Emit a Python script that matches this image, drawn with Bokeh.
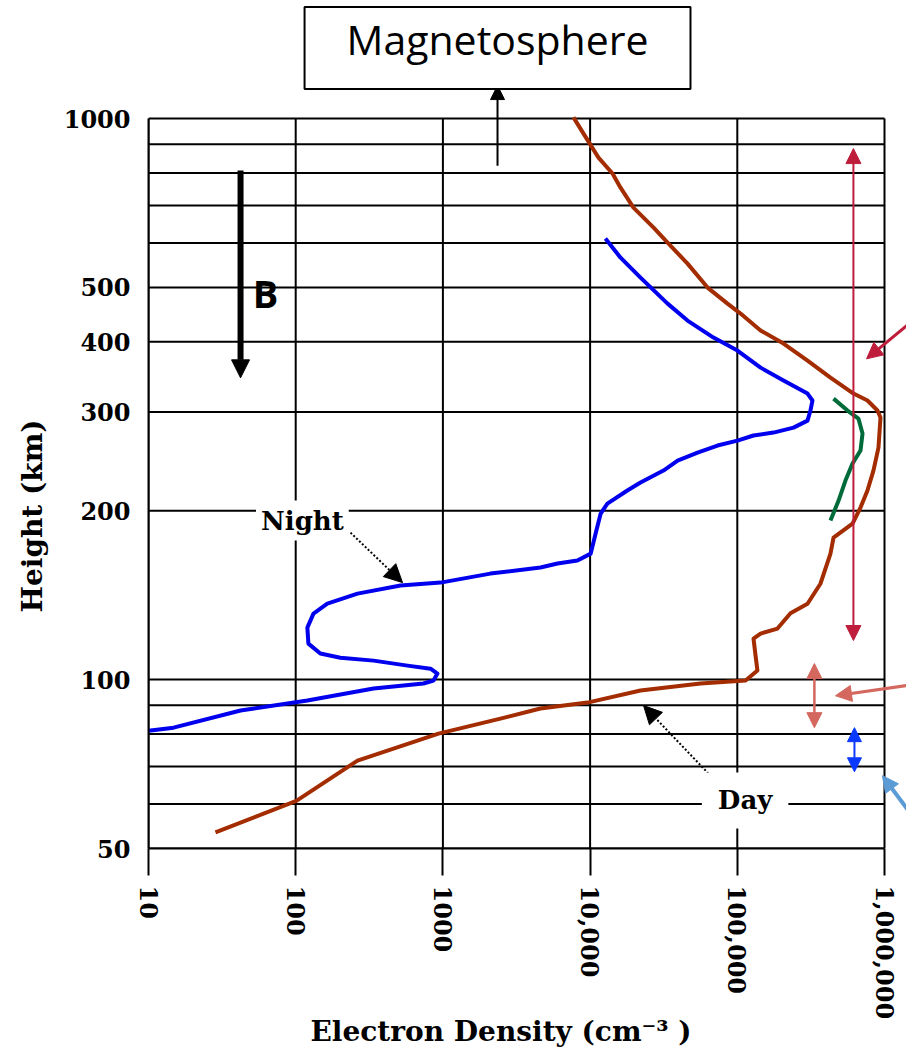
import math
from bokeh.plotting import figure
from bokeh.models import Range1d, FixedTicker, Label, Arrow, NormalHead, Title
from bokeh.embed import file_html
from bokeh.resources import INLINE

# ---------------- data ----------------
day_density = [28.5, 101, 263, 933, 2460, 4600, 9600, 22000, 56200, 113800,
               137000, 133000, 128900, 143900, 187500, 229700, 300000, 367000, 429500, 450500,
               606500, 687000, 766000, 841000, 910000, 939000, 896000, 766000, 615500, 429500,
               300000, 206000, 143900, 105200, 85800, 62800, 45900, 34100, 27000, 19700,
               16100, 14200, 11400, 9020, 7710]
day_height = [53.4, 60.8, 71.7, 80.1, 85.2, 88.8, 91.0, 95.6, 98.4, 99.6,
              103.8, 110.4, 118.3, 120.8, 123.3, 131.3, 136.5, 148.2, 167.7, 179.1,
              189.7, 202.6, 217.3, 235.8, 259.1, 293.1, 301.7, 314.4, 323.5, 345.4,
              370.4, 397.2, 419.0, 449.2, 467.9, 499.7, 551.3, 598.7, 639.3, 694.0,
              753, 798, 852, 940, 1005]

night_density = [12700, 16100, 22000, 33600, 45900, 68900, 100200, 143900, 206000, 300000,
                 324000, 314000, 300000, 241000, 176200, 128900, 100200, 73400, 53700, 39300,
                 31500, 22000, 17900, 13100, 11800, 10900, 10100, 8200, 6010, 4600,
                 2100, 964, 515, 263, 164, 132, 120, 122, 147, 201,
                 338, 575, 824, 918, 863, 738, 338, 120, 42.2, 14.8, 10]
night_height = [611, 565, 520.7, 467.9, 436.4, 407, 385.9, 359.8, 341.2, 323.5,
                314.4, 301.7, 289.5, 281.3, 275.6, 272.3, 266.7, 261.3, 253.9, 245.7,
                235.8, 224.5, 217.3, 205.9, 197.7, 182.1, 167.7, 163.0, 161.0, 158.4,
                154.5, 148.9, 147.1, 142.3, 136.6, 131.1, 123.8, 115.9, 111.3, 109.4,
                108.1, 105.9, 104.6, 102.5, 99.6, 98.4, 96.4, 91.8, 88.1, 82.1, 81.1]

green_density = [450500, 561000, 665000, 709000, 687000, 606500, 543000, 487500, 429500]
green_height = [316.8, 301.7, 291.9, 274.5, 256, 242.7, 226.3, 208.5, 192.1]

x_ticks = [10, 100, 1000, 10000, 100000, 1000000]
x_tick_labels = ["10", "100", "1000", "10,000", "100,000", "1,000,000"]
y_ticks = [50, 60, 70, 80, 90, 100, 200, 300, 400, 500, 600, 700, 800, 900, 1000]
y_tick_labels = ["50", "", "", "", "", "100", "200", "300", "400", "500", "", "", "", "", "1000"]

x_min, x_max = 10, 1000000
y_min, y_max = 50, 1000

# ---------------- figure ----------------
# the frame reaches the top and right canvas edges so that the annotations
# drawn beyond the gridded area (box, arrows) are not clipped
p = figure(width=906, height=1047, x_axis_type="log", y_axis_type="log",
           x_range=Range1d(x_min, 1.4107e6), y_range=Range1d(y_min, 1623.3),
           output_backend="svg", toolbar_location=None,
           min_border_left=148, min_border_right=0, min_border_top=0, min_border_bottom=199)
p.title.visible = False
p.background_fill_color = "white"
p.border_fill_color = "white"
p.outline_line_color = None
p.xgrid.visible = False
p.ygrid.visible = False

serif = "DejaVu Serif"

p.xaxis.ticker = FixedTicker(ticks=x_ticks)
p.yaxis.ticker = FixedTicker(ticks=y_ticks)
p.xaxis.major_label_overrides = {t: l for t, l in zip(x_ticks, x_tick_labels)}
p.yaxis.major_label_overrides = {t: l for t, l in zip(y_ticks, y_tick_labels)}
p.xaxis.bounds = (x_min, x_max)
p.yaxis.bounds = (y_min, y_max)
p.xaxis.minor_tick_line_color = None
p.yaxis.minor_tick_line_color = None
for ax in (p.xaxis, p.yaxis):
    ax.major_label_text_font = serif
    ax.major_label_text_font_style = "bold"
    ax.major_label_text_font_size = "24px"
    ax.major_label_text_color = "black"
    ax.axis_line_color = "black"
    ax.axis_line_width = 2
    ax.major_tick_line_color = "black"
    ax.major_tick_line_width = 2
p.xaxis.major_tick_out = 27
p.xaxis.major_tick_in = 0
p.xaxis.major_label_standoff = 10
p.xaxis.major_label_orientation = -math.pi / 2
p.yaxis.major_tick_out = 0
p.yaxis.major_tick_in = 0
p.yaxis.major_label_standoff = 18

# axis titles
p.add_layout(Title(text="Height (km)", align="left", offset=236, standoff=24,
                   text_font=serif, text_font_style="bold", text_font_size="28px",
                   text_color="black"), "left")
p.add_layout(Title(text="Electron Density (cm\u207b\u00b3 )", align="left", offset=162,
                   standoff=-20, text_font=serif, text_font_style="bold",
                   text_font_size="28px", text_color="black"), "below")

# grid lines over the gridded area only
p.segment(x0=[x_min] * len(y_ticks), y0=y_ticks, x1=[x_max] * len(y_ticks), y1=y_ticks,
          line_color="black", line_width=2)
p.segment(x0=x_ticks, y0=[y_min] * len(x_ticks), x1=x_ticks, y1=[y_max] * len(x_ticks),
          line_color="black", line_width=2)

# ---------------- curves ----------------
p.line(day_density, day_height, line_color="#A32C00", line_width=4, line_join="round")
p.line(night_density, night_height, line_color="#0000EE", line_width=4, line_join="round")
p.line(green_density, green_height, line_color="#006B3A", line_width=4, line_join="round")

# ---------------- annotations ----------------
# Magnetosphere box and arrow
p.add_layout(Arrow(x_start=2350, y_start=824, x_end=2350, y_end=1145,
                   line_color="black", line_width=2,
                   end=NormalHead(size=14, fill_color="black", line_color="black")))
p.add_layout(Label(x=2350, y=1335.8, text="Magnetosphere", text_align="center",
                   text_baseline="middle", text_font="Open Sans", text_font_size="41px",
                   text_color="black",
                   background_fill_color="white", border_line_color="black",
                   border_line_width=2,
                   padding=dict(left=42, right=42, top=4, bottom=22)))

# B arrow
p.add_layout(Arrow(x_start=42.2, y_start=808, x_end=42.2, y_end=345,
                   line_color="black", line_width=6,
                   end=NormalHead(size=18, fill_color="black", line_color="black")))
p.add_layout(Label(x=62.4, y=489.6, text="B", text_align="center", text_baseline="middle",
                   text_font="Open Sans", text_font_style="bold", text_font_size="38px",
                   text_color="black"))

# Night label and arrow
p.add_layout(Arrow(x_start=235.6, y_start=182.8, x_end=531.7, y_end=148.9,
                   line_color="black", line_width=2, line_dash="2 2",
                   end=NormalHead(size=18, fill_color="black", line_color="black")))
p.add_layout(Label(x=111, y=192.1, text="Night", text_align="center", text_baseline="middle",
                   text_font=serif, text_font_style="bold", text_font_size="26px",
                   text_color="black", background_fill_color="white", padding=5))

# Day label and arrow
p.add_layout(Arrow(x_start=63700, y_start=68.0, x_end=23070, y_end=89.9,
                   line_color="black", line_width=2, line_dash="2 2",
                   end=NormalHead(size=18, fill_color="black", line_color="black")))
p.add_layout(Label(x=113000, y=60.9, text="Day", text_align="center", text_baseline="middle",
                   text_font=serif, text_font_style="bold", text_font_size="26px",
                   text_color="black", background_fill_color="white",
                   padding=dict(left=16, right=16, top=13, bottom=13)))

# coloured range arrows on the right
crimson = "#BE1E3C"
p.add_layout(Arrow(x_start=615000, y_start=117.4, x_end=615000, y_end=884,
                   line_color=crimson, line_width=2,
                   start=NormalHead(size=15, fill_color=crimson, line_color=crimson),
                   end=NormalHead(size=15, fill_color=crimson, line_color=crimson)))
p.add_layout(Arrow(x_start=1760000, y_start=448, x_end=755000, y_end=373,
                   line_color=crimson, line_width=3,
                   end=NormalHead(size=16, fill_color=crimson, line_color=crimson)))

salmon = "#D4675E"
p.add_layout(Arrow(x_start=334000, y_start=82.1, x_end=334000, y_end=106.8,
                   line_color=salmon, line_width=2.5,
                   start=NormalHead(size=15, fill_color=salmon, line_color=salmon),
                   end=NormalHead(size=15, fill_color=salmon, line_color=salmon)))
p.add_layout(Arrow(x_start=1760000, y_start=98.4, x_end=464500, y_end=93.6,
                   line_color=salmon, line_width=3,
                   end=NormalHead(size=16, fill_color=salmon, line_color=salmon)))

blue2 = "#0A3AFF"
p.add_layout(Arrow(x_start=625000, y_start=68.5, x_end=625000, y_end=82.1,
                   line_color=blue2, line_width=2,
                   start=NormalHead(size=14, fill_color=blue2, line_color=blue2),
                   end=NormalHead(size=14, fill_color=blue2, line_color=blue2)))

lblue = "#5B9BD5"
p.add_layout(Arrow(x_start=1630000, y_start=56.1, x_end=968000, y_end=67.4,
                   line_color=lblue, line_width=4,
                   end=NormalHead(size=16, fill_color=lblue, line_color=lblue)))

open("out.html", "w").write(file_html(p, INLINE))
